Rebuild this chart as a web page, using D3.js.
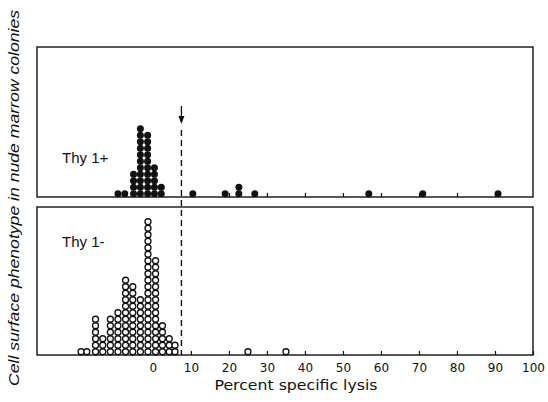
<!DOCTYPE html>
<html>
<head>
<meta charset="utf-8">
<script src="https://cdn.jsdelivr.net/npm/d3@7"></script>
<style>
  html, body { margin: 0; padding: 0; background: #fff; }
  svg { display: block; }
</style>
</head>
<body>
<svg id="chart" width="548" height="402"></svg>
<script>
// ---- data ----
const xTickValues = [0, 10, 20, 30, 40, 50, 60, 70, 80, 90, 100];
const thresholdValue = 7.5;

// Thy 1+ (filled circles): column centre (% lysis) and number of colonies
const thyPosValues = [-9.2, -7.4, -5.1, -3.3, -1.4, 0.4, 2.2, 10.5, 19, 22.6, 26.8, 56.8, 71, 90.8];
const thyPosCounts = [1, 1, 4, 11, 10, 5, 2, 1, 1, 2, 1, 1, 1, 1];

// Thy 1- (open circles)
const thyNegValues = [-18.9, -17.4, -15.1, -13.2, -11.2, -9.2, -7.2, -5.3, -3.3, -1.3, 0.7, 2.5, 4.3, 5.8, 25, 35];
const thyNegCounts = [1, 1, 6, 3, 6, 7, 12, 11, 9, 21, 15, 5, 3, 2, 1, 1];

const panelLabels = ["Thy 1+", "Thy 1-"];
const xTitle = "Percent specific lysis";
const yTitle = "Cell surface phenotype in nude marrow colonies";

// ---- layout ----
const svg = d3.select("#chart");
const left = 37, right = 533;
const top1 = 47, base1 = 197;
const top2 = 207, base2 = 355;
const step = 6.5;

const x = d3.scaleLinear().domain([-30.5, 100]).range([left, right]);
const yTop = d3.scaleLinear().domain([0, 1]).range([base1, base1 - step]);
const yBot = d3.scaleLinear().domain([0, 1]).range([base2, base2 - step]);

function expand(values, counts) {
  const out = [];
  values.forEach((v, i) => {
    for (let k = 0; k < counts[i]; k++) out.push({ v, k });
  });
  return out;
}

// panel boxes
[[top1, base1], [top2, base2]].forEach(([t, b]) => {
  svg.append("rect")
    .attr("x", left).attr("y", t)
    .attr("width", right - left).attr("height", b - t)
    .attr("fill", "none").attr("stroke", "#111").attr("stroke-width", 1.4);
});

// inner ticks on both baselines
const topAxis = d3.axisBottom(x).tickValues(xTickValues.slice(1, 10)).tickSize(-4).tickFormat("");
svg.append("g").attr("transform", `translate(0,${base1})`).call(topAxis)
  .call(g => g.select(".domain").remove())
  .call(g => g.selectAll("line").attr("stroke", "#111").attr("stroke-width", 1.2));

const botAxis = d3.axisBottom(x).tickValues(xTickValues).tickSize(-4).tickPadding(8)
  .tickFormat(d3.format("d"));
svg.append("g").attr("transform", `translate(0,${base2})`).call(botAxis)
  .call(g => g.select(".domain").remove())
  .call(g => g.selectAll("line").attr("stroke", "#111").attr("stroke-width", 1.2))
  .call(g => g.selectAll("text")
    .attr("font-family", "'DejaVu Sans', sans-serif")
    .attr("font-size", 12).attr("fill", "#111"));

// dots
svg.append("g").selectAll("circle")
  .data(expand(thyPosValues, thyPosCounts))
  .join("circle")
  .attr("cx", d => x(d.v))
  .attr("cy", d => yTop(d.k + 0.5))
  .attr("r", 3.5)
  .attr("fill", "#111");

svg.append("g").selectAll("circle")
  .data(expand(thyNegValues, thyNegCounts))
  .join("circle")
  .attr("cx", d => x(d.v))
  .attr("cy", d => yBot(d.k + 0.5))
  .attr("r", 3.0)
  .attr("fill", "#fff")
  .attr("stroke", "#111")
  .attr("stroke-width", 1.3);

// threshold: arrow + dashed line
const tx = x(thresholdValue);
svg.append("line")
  .attr("x1", tx).attr("x2", tx).attr("y1", 106).attr("y2", 122)
  .attr("stroke", "#111").attr("stroke-width", 1.3);
svg.append("path")
  .attr("d", `M${tx - 3},${116} L${tx},${124} L${tx + 3},${116} Z`)
  .attr("fill", "#111");
svg.append("line")
  .attr("x1", tx).attr("x2", tx).attr("y1", 130).attr("y2", base2)
  .attr("stroke", "#111").attr("stroke-width", 1.4)
  .attr("stroke-dasharray", "6,4");

// panel labels
svg.append("text").attr("x", 62).attr("y", 163)
  .attr("font-family", "'Liberation Sans', Arial, sans-serif").attr("font-size", 15)
  .attr("fill", "#111").text(panelLabels[0]);
svg.append("text").attr("x", 62).attr("y", 247)
  .attr("font-family", "'Liberation Sans', Arial, sans-serif").attr("font-size", 15)
  .attr("fill", "#111").text(panelLabels[1]);

// axis titles
svg.append("text").attr("x", 296).attr("y", 390)
  .attr("text-anchor", "middle")
  .attr("font-family", "'DejaVu Sans', sans-serif").attr("font-size", 14)
  .attr("textLength", 163).attr("lengthAdjust", "spacingAndGlyphs")
  .attr("fill", "#111").text(xTitle);

svg.append("text")
  .attr("transform", "translate(19,198) rotate(-90)")
  .attr("text-anchor", "middle")
  .attr("font-family", "'Liberation Sans', Arial, sans-serif").attr("font-size", 14)
  .attr("font-style", "italic")
  .attr("textLength", 376).attr("lengthAdjust", "spacingAndGlyphs")
  .attr("fill", "#111").text(yTitle);
</script>
</body>
</html>
